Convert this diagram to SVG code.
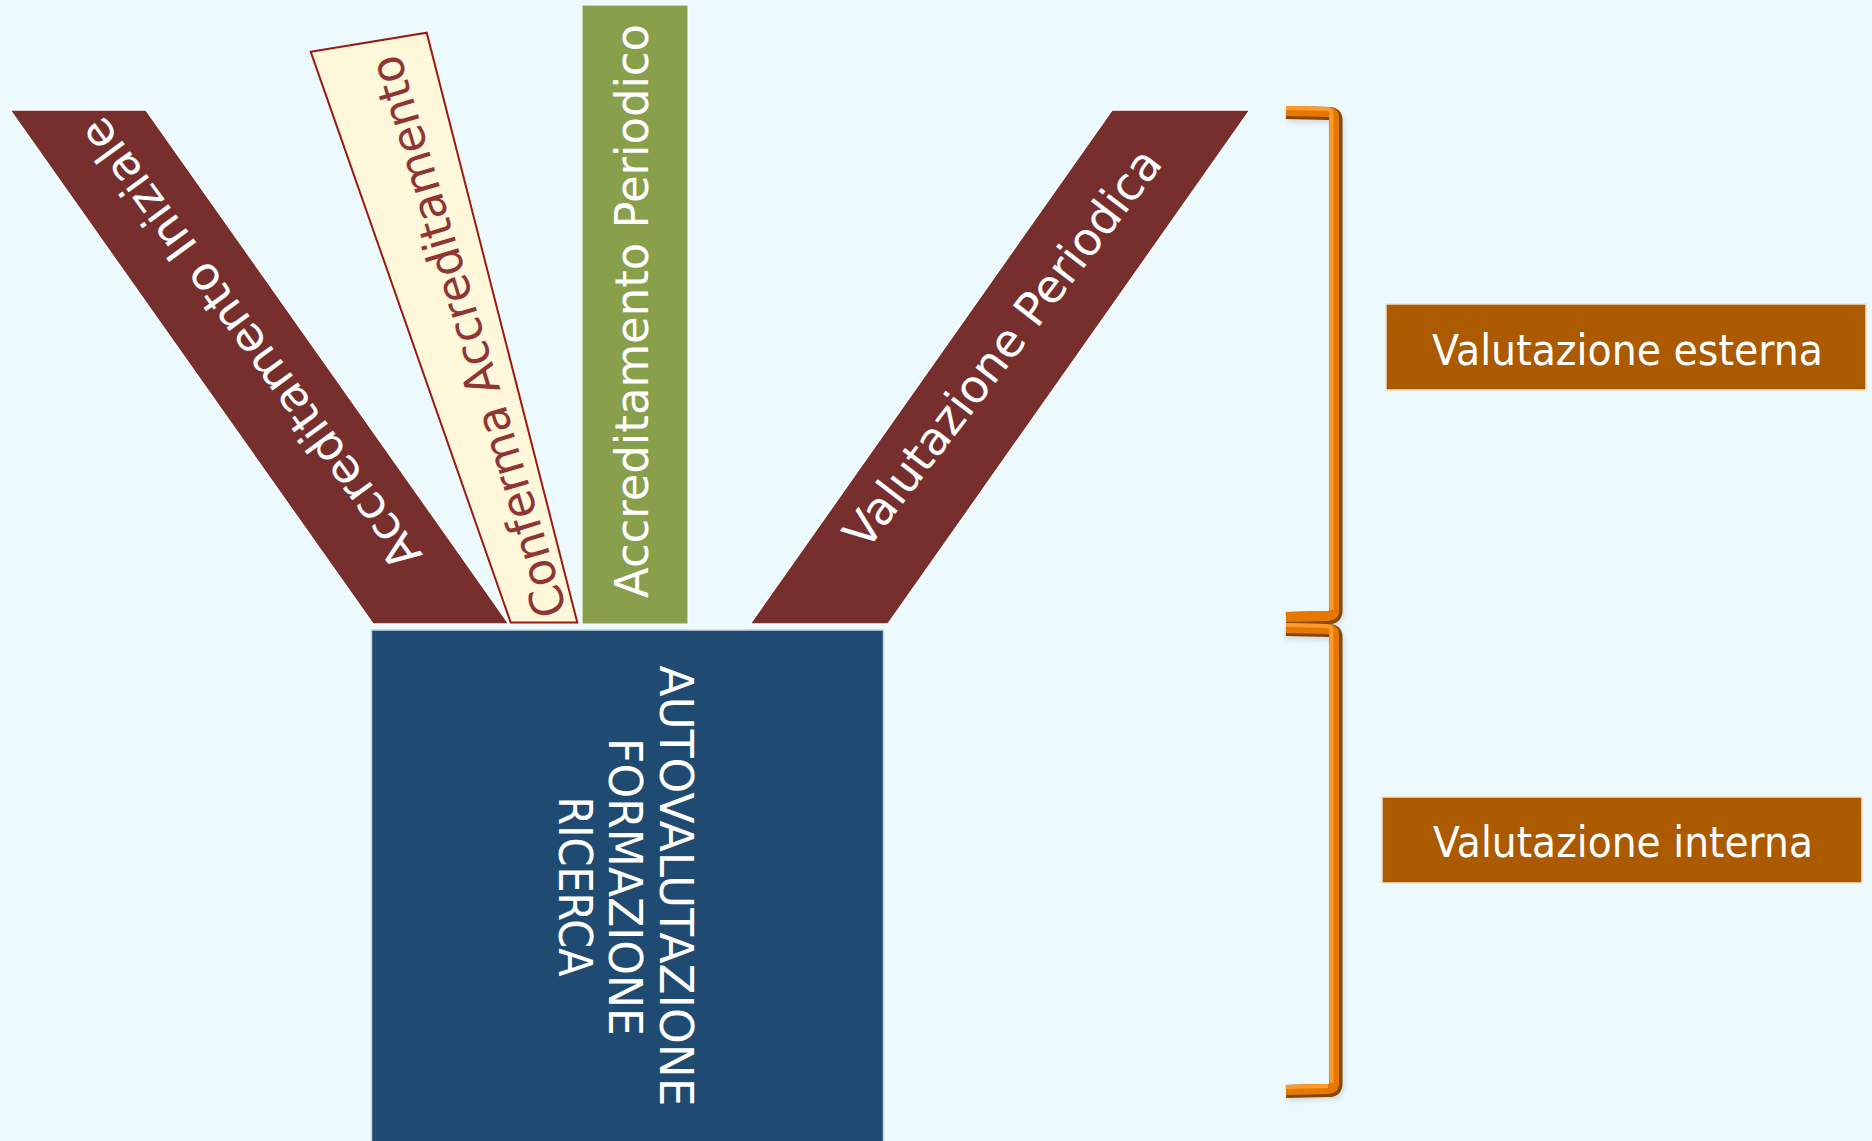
<svg xmlns="http://www.w3.org/2000/svg" width="1872" height="1141" viewBox="0 0 1872 1141">
<defs>
<style>
.lbl{font-family:"Comic Sans MS","DejaVu Sans","Liberation Sans",sans-serif;font-size:46px;fill:#ffffff;text-anchor:middle}
.box{font-family:"Comic Sans MS","DejaVu Sans","Liberation Sans",sans-serif;font-size:42px;fill:#ffffff;text-anchor:middle}
.red{fill:#772F2D;stroke:#ffffff;stroke-width:1.5}
.org{fill:#AB5A00;stroke:#f4e0c8;stroke-width:1.5}
.br-dark{fill:none;stroke:#8A4700;stroke-width:13;stroke-linejoin:round}
.br-main{fill:none;stroke:#E57800;stroke-width:10;stroke-linejoin:round}
.br-hi{fill:none;stroke:#FF9A2A;stroke-width:4;stroke-linejoin:round}
.br-sh{fill:none;stroke:#9aa7ad;stroke-width:13;stroke-linejoin:round;opacity:0.35}
</style>
<filter id="blur" x="-20%" y="-5%" width="140%" height="110%"><feGaussianBlur stdDeviation="2.5"/></filter>
</defs>
<rect x="0" y="0" width="1872" height="1141" fill="#ECF9FD"/>

<g id="accreditamento-iniziale">
<polygon class="red" points="10,110 146,110 509,624 373,624"/>
<text class="lbl" transform="translate(263,334.6) rotate(234)" textLength="545" lengthAdjust="spacingAndGlyphs">Accreditamento Iniziale</text>
</g>

<g id="conferma-accreditamento">
<polygon points="310.7,51.7 426.7,32.7 577.3,622.5 510.7,622.5" fill="#FFF8DB" stroke="#9B1A12" stroke-width="2"/>
<text class="lbl" style="fill:#913434" transform="translate(483.3,332) rotate(-106.7)" textLength="584" lengthAdjust="spacingAndGlyphs">Conferma Accreditamento</text>
</g>

<g id="accreditamento-periodico">
<rect x="582" y="5" width="106" height="619" fill="#88A04B" stroke="#ffffff" stroke-width="1"/>
<text class="lbl" transform="translate(648,311) rotate(-90)" textLength="574" lengthAdjust="spacingAndGlyphs">Accreditamento Periodico</text>
</g>

<g id="valutazione-periodica">
<polygon class="red" points="1112,110 1250,110 888,624 750,624"/>
<text class="lbl" transform="translate(1015,357.7) rotate(-52.5)" textLength="489" lengthAdjust="spacingAndGlyphs">Valutazione Periodica</text>
</g>

<g id="autovalutazione">
<rect x="371.5" y="630" width="512" height="520" fill="#1F4A71" stroke="#c9d6e0" stroke-width="1.5"/>
<text class="lbl" transform="translate(659.6,886) rotate(90)" textLength="441" lengthAdjust="spacingAndGlyphs">AUTOVALUTAZIONE</text>
<text class="lbl" transform="translate(608.6,887) rotate(90)" textLength="298" lengthAdjust="spacingAndGlyphs">FORMAZIONE</text>
<text class="lbl" transform="translate(558.7,886.5) rotate(90)" textLength="180" lengthAdjust="spacingAndGlyphs">RICERCA</text>
</g>

<g id="valutazione-esterna">
<rect class="org" x="1386" y="304" width="480" height="86"/>
<text class="box" x="1627.5" y="365" textLength="391" lengthAdjust="spacingAndGlyphs">Valutazione esterna</text>
</g>

<g id="valutazione-interna">
<rect class="org" x="1382" y="797" width="480" height="86"/>
<text class="box" x="1623" y="857" textLength="380" lengthAdjust="spacingAndGlyphs">Valutazione interna</text>
</g>

<g id="connectors">
<g id="bracket-esterna">
<path class="br-sh" filter="url(#blur)" d="M1287,116 L1331,117 Q1338,117 1338,124 L1338,612 Q1338,620 1331,620 L1287,622"/>
<path class="br-dark" d="M1286,112.5 L1329,113.5 Q1336,113.5 1336,120 L1336,611 Q1336,617.5 1329,617.5 L1286,618.5"/>
<path class="br-main" d="M1286,111 L1328,112 Q1334,112 1334,118 L1334,611 Q1334,616 1328,616 L1286,617"/>
<path class="br-hi" d="M1286,108 L1327,109 Q1331.5,109 1331.5,114 L1331.5,610"/>
</g>
<g id="bracket-interna">
<path class="br-sh" filter="url(#blur)" d="M1287,633 L1331,634 Q1338,634 1338,641 L1338,1085 Q1338,1093 1331,1093 L1287,1095"/>
<path class="br-dark" d="M1286,629.5 L1329,630.5 Q1336,630.5 1336,637 L1336,1084 Q1336,1090.5 1329,1090.5 L1286,1091.5"/>
<path class="br-main" d="M1286,628 L1328,629 Q1334,629 1334,635 L1334,1084 Q1334,1089 1328,1089 L1286,1090"/>
<path class="br-hi" d="M1286,625 L1327,626 Q1331.5,626 1331.5,631 L1331.5,1083 M1286,1087 L1328,1086"/>
</g>
</g>
</svg>
